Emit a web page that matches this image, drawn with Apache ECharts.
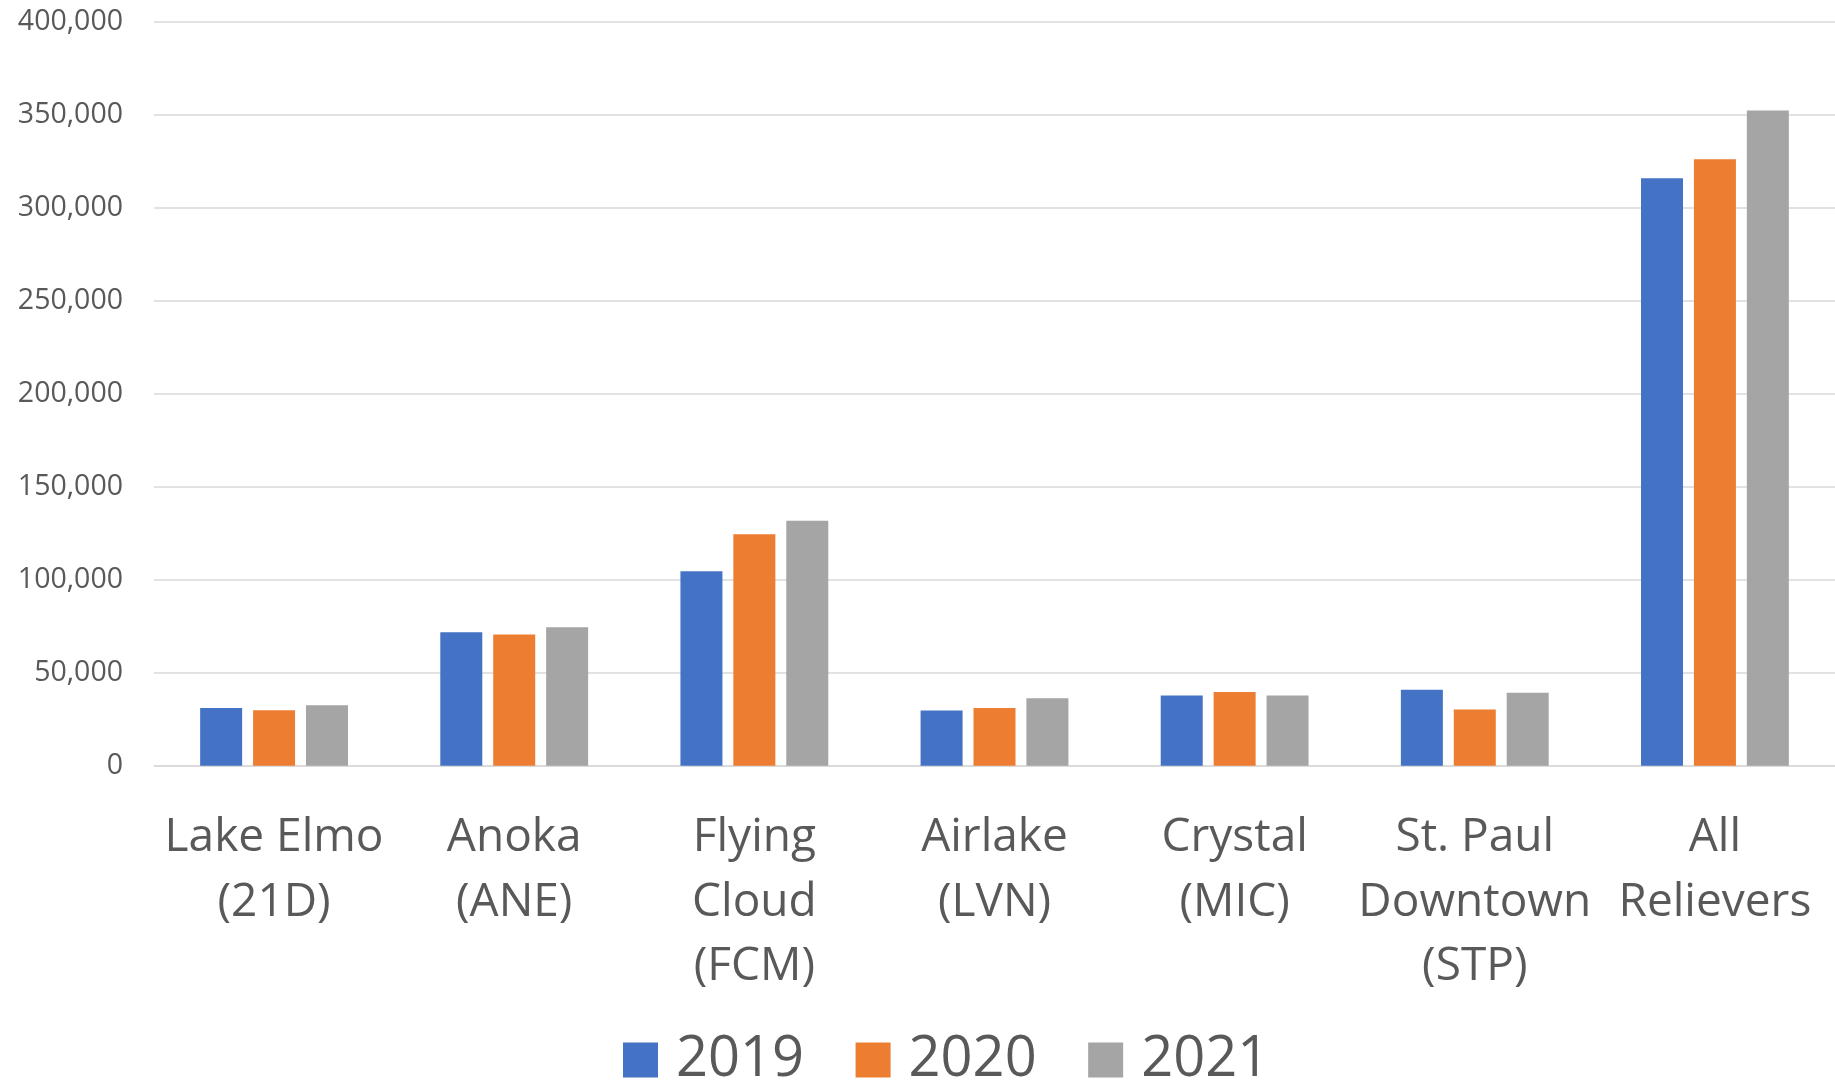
<!DOCTYPE html>
<html>
<head>
<meta charset="utf-8">
<script src="https://cdn.jsdelivr.net/npm/echarts@6/dist/echarts.min.js"></script>
<style>
html,body{margin:0;padding:0;background:#fff;}
#chart{width:1835px;height:1085px;}
</style>
</head>
<body>
<div id="chart"></div>
<script>
const categories = ["Lake Elmo\n(21D)", "Anoka\n(ANE)", "Flying\nCloud\n(FCM)", "Airlake\n(LVN)", "Crystal\n(MIC)", "St. Paul\nDowntown\n(STP)", "All\nRelievers"];
const seriesNames = ["2019", "2020", "2021"];
const values2019 = [31000, 71700, 104600, 29700, 37800, 40800, 315800];
const values2020 = [29800, 70600, 124500, 31000, 39600, 30200, 326100];
const values2021 = [32500, 74400, 131700, 36200, 37800, 39200, 352300];
const colors = ["#4472C4", "#ED7D31", "#A5A5A5"];
const yTicks = { min: 0, max: 400000, interval: 50000 };

const font = "'Open Sans', 'Noto Sans', sans-serif";
const chart = echarts.init(document.getElementById('chart'));
const allValues = [values2019, values2020, values2021];
chart.setOption({
  animation: false,
  backgroundColor: '#ffffff',
  color: colors,
  textStyle: { fontFamily: font },
  grid: { left: 154, right: 0, top: 21.7, bottom: 319.3, containLabel: false },
  legend: {
    data: seriesNames,
    left: 623,
    top: 1030,
    padding: 0,
    icon: 'rect',
    itemWidth: 35,
    itemHeight: 35,
    itemGap: 51.5,
    textStyle: { fontSize: 56, color: '#595959', fontFamily: font, lineHeight: 60, padding: [0, 0, 0, 13] }
  },
  xAxis: {
    type: 'category',
    data: categories,
    axisLine: { show: true, lineStyle: { color: '#d9d9d9', width: 1.5 } },
    axisTick: { show: false },
    axisLabel: {
      interval: 0,
      margin: 40,
      fontSize: 46,
      lineHeight: 64.5,
      color: '#595959',
      fontFamily: font
    }
  },
  yAxis: {
    type: 'value',
    min: yTicks.min,
    max: yTicks.max,
    interval: yTicks.interval,
    axisLine: { show: false },
    axisTick: { show: false },
    splitLine: { lineStyle: { color: '#d9d9d9', width: 1.5 } },
    axisLabel: {
      margin: 31,
      fontSize: 28.5,
      color: '#595959',
      fontFamily: font,
      formatter: v => v.toLocaleString('en-US')
    }
  },
  series: seriesNames.map((name, i) => ({
    name: name,
    type: 'bar',
    data: allValues[i],
    barWidth: 42,
    barGap: '26%',
    itemStyle: { color: colors[i] }
  }))
});
</script>
</body>
</html>
